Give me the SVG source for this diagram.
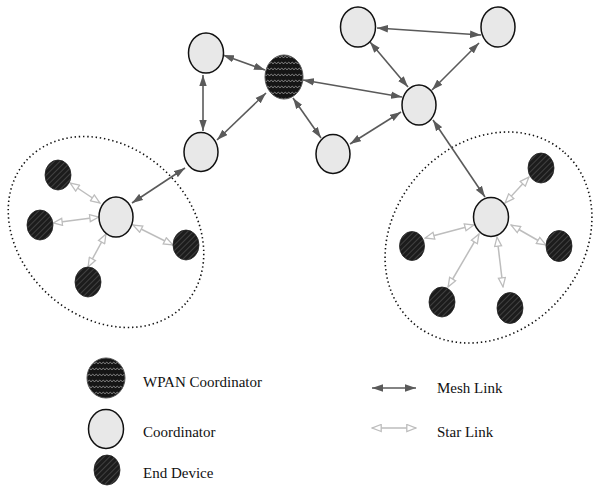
<svg xmlns="http://www.w3.org/2000/svg" width="595" height="486" viewBox="0 0 595 486">
<style>
.coord{fill:#e8e8e8;stroke:#111;stroke-width:1.5}
.wpan{fill:url(#wave);stroke:#555;stroke-width:1}
.end{fill:url(#hatch);stroke:#222;stroke-width:0.8}
.mesh{stroke:#5a5a5a;stroke-width:1.6;fill:none;marker-start:url(#mh);marker-end:url(#mh)}
.star{stroke:#bdbdbd;stroke-width:1.5;fill:none;marker-start:url(#sh);marker-end:url(#sh)}
.zone{fill:none;stroke:#111;stroke-width:1.6;stroke-dasharray:1.4 2.8;stroke-linecap:butt}
.lbl{font-family:"Liberation Serif","Times New Roman",serif;font-size:15px;fill:#111}
</style>
<defs>
<marker id="mh" viewBox="0 0 11 8" refX="11" refY="4" markerWidth="11" markerHeight="8" markerUnits="userSpaceOnUse" orient="auto-start-reverse">
<path d="M0,0.3 L11,4 L0,7.7 z" fill="#5a5a5a"/>
</marker>
<marker id="sh" viewBox="0 0 11 9" refX="10.2" refY="4.5" markerWidth="11" markerHeight="9" markerUnits="userSpaceOnUse" orient="auto-start-reverse">
<path d="M1,1 L10,4.5 L1,8 z" fill="#fff" stroke="#bdbdbd" stroke-width="1.3"/>
</marker>
<pattern id="hatch" width="4" height="4" patternUnits="userSpaceOnUse" patternTransform="rotate(45)">
<rect width="4" height="4" fill="#1c1c1c"/>
<line x1="0" y1="0" x2="0" y2="4" stroke="#5a5a5a" stroke-width="1.2"/>
</pattern>
<pattern id="wave" width="7" height="6" patternUnits="userSpaceOnUse">
<rect width="7" height="6" fill="#151515"/>
<path d="M0,4 Q1.75,0.5 3.5,4 Q5.25,0.5 7,4" fill="none" stroke="#8a8a8a" stroke-width="0.9"/>
</pattern>
</defs>

<g id="zones">
<ellipse class="zone" cx="106" cy="232" rx="107" ry="85" transform="rotate(42 106 232)"/>
<ellipse class="zone" cx="488.5" cy="237.5" rx="114" ry="94" transform="rotate(-48 488.5 237.5)"/>
</g>

<g id="connectors">
<line class="mesh" x1="203" y1="75" x2="203" y2="131"/>
<line class="mesh" x1="223" y1="55" x2="265" y2="70"/>
<line class="mesh" x1="217" y1="140" x2="266" y2="93"/>
<line class="mesh" x1="293" y1="98" x2="321" y2="138"/>
<line class="mesh" x1="303" y1="80" x2="402" y2="97"/>
<line class="mesh" x1="350" y1="144" x2="401" y2="112"/>
<line class="mesh" x1="370" y1="42" x2="408" y2="87"/>
<line class="mesh" x1="432" y1="90" x2="479" y2="43"/>
<line class="mesh" x1="377" y1="28" x2="481" y2="35"/>
<line class="mesh" x1="433" y1="120" x2="485" y2="197"/>
<line class="mesh" x1="185" y1="168" x2="132" y2="203"/>
<line class="star" x1="70" y1="183" x2="100" y2="203"/>
<line class="star" x1="53" y1="223" x2="99" y2="217"/>
<line class="star" x1="133" y1="225" x2="173" y2="245"/>
<line class="star" x1="88" y1="267" x2="106" y2="234"/>
<line class="star" x1="505" y1="203" x2="529" y2="177"/>
<line class="star" x1="474" y1="225" x2="425" y2="238"/>
<line class="star" x1="511" y1="225" x2="546" y2="245"/>
<line class="star" x1="479" y1="234" x2="448" y2="287"/>
<line class="star" x1="497" y1="237" x2="503" y2="287"/>
<line class="mesh" x1="372" y1="388" x2="416" y2="388"/>
<line class="star" x1="372" y1="428" x2="416" y2="428"/>
</g>

<g id="wpan"><ellipse class="wpan" cx="284" cy="77" rx="19" ry="22"/></g>
<g id="coordA"><ellipse class="coord" cx="206" cy="53" rx="17.5" ry="20"/></g>
<g id="coordB"><ellipse class="coord" cx="201" cy="152" rx="17" ry="19.5"/></g>
<g id="coordC"><ellipse class="coord" cx="333" cy="154" rx="17" ry="19.5"/></g>
<g id="coordD"><ellipse class="coord" cx="419" cy="105" rx="17" ry="20"/></g>
<g id="coordE"><ellipse class="coord" cx="358" cy="27" rx="17.5" ry="20"/></g>
<g id="coordF"><ellipse class="coord" cx="498" cy="27" rx="17" ry="20"/></g>
<g id="coordG"><ellipse class="coord" cx="116" cy="217" rx="17" ry="20"/></g>
<g id="coordH"><ellipse class="coord" cx="491" cy="217" rx="17.5" ry="19.5"/></g>

<g id="endL1"><ellipse class="end" cx="58" cy="175" rx="13" ry="15"/></g>
<g id="endL2"><ellipse class="end" cx="40" cy="225" rx="13" ry="15"/></g>
<g id="endL3"><ellipse class="end" cx="186" cy="245" rx="13" ry="15"/></g>
<g id="endL4"><ellipse class="end" cx="88" cy="282" rx="13" ry="15"/></g>
<g id="endR1"><ellipse class="end" cx="541" cy="168" rx="13" ry="15"/></g>
<g id="endR2"><ellipse class="end" cx="412" cy="246" rx="12.5" ry="14.5"/></g>
<g id="endR3"><ellipse class="end" cx="559" cy="246" rx="13" ry="15.5"/></g>
<g id="endR4"><ellipse class="end" cx="442" cy="302" rx="13" ry="15"/></g>
<g id="endR5"><ellipse class="end" cx="510" cy="308" rx="13" ry="15.5"/></g>

<g id="legend">
<ellipse class="wpan" cx="106" cy="378" rx="19" ry="20"/>
<text class="lbl" x="143" y="387">WPAN Coordinator</text>
<ellipse class="coord" cx="106" cy="429" rx="17.5" ry="19.5"/>
<text class="lbl" x="143" y="437">Coordinator</text>
<ellipse class="end" cx="107" cy="470" rx="13" ry="15"/>
<text class="lbl" x="143" y="478">End Device</text>
<text class="lbl" x="437" y="393">Mesh Link</text>
<text class="lbl" x="437" y="437">Star Link</text>
</g>
</svg>
